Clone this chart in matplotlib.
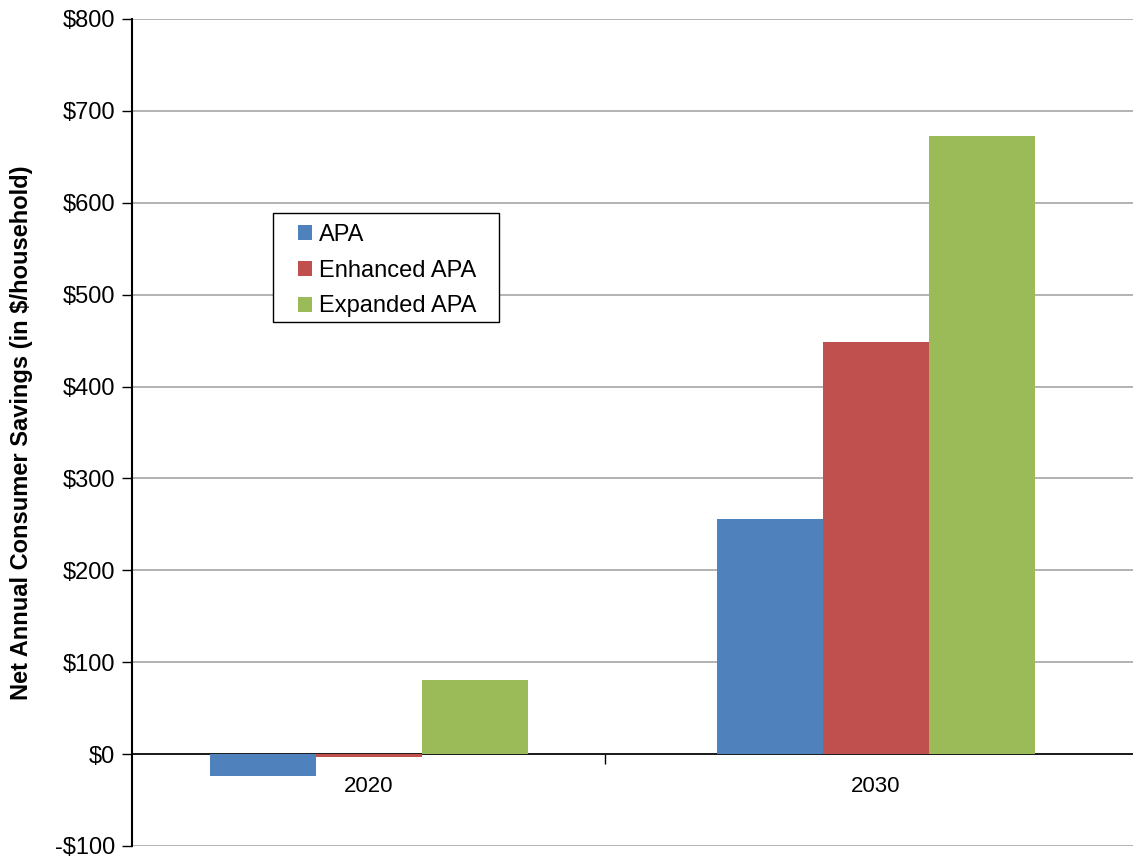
import numpy as np
import matplotlib
matplotlib.use("Agg")
import matplotlib.pyplot as plt
from matplotlib.ticker import FixedLocator
from matplotlib.patches import Rectangle

plt.rcParams["font.family"] = ["Liberation Sans", "DejaVu Sans"]

# values in $/household
YEARS    = ["2020", "2030"]
SERIES   = ["APA", "Enhanced APA", "Expanded APA"]
APA      = [-24, 256]
ENHANCED = [-3, 448]
EXPANDED = [81, 673]
Y_TICKS  = [-100, 0, 100, 200, 300, 400, 500, 600, 700, 800]

COLORS = ["#4F81BD", "#C0504D", "#9BBB59"]

W, H = 1133, 857
TOP, BOT, LEFT = 19, 846, 132
fig = plt.figure(figsize=(W / 100, H / 100), dpi=100)
ax = fig.add_axes([LEFT / W, 1 - BOT / H, 1 - LEFT / W, (BOT - TOP) / H])

x = np.arange(len(YEARS))
w = 0.209
for i, (vals, name) in enumerate(zip([APA, ENHANCED, EXPANDED], SERIES)):
    ax.bar(x + (i - 1) * w, vals, width=w, color=COLORS[i], label=name, zorder=3)

ax.set_ylim(-100, 800)
ax.set_xlim(-0.4665, 1.5075)
ax.set_yticks(Y_TICKS)
ax.set_yticklabels([f"-${-v}" if v < 0 else f"${v}" for v in Y_TICKS], fontsize=17)
ax.yaxis.grid(True, color="#A6A6A6", linewidth=1.2, zorder=0)
ax.set_axisbelow(True)
ax.tick_params(axis="y", length=7, width=1, pad=5, direction="out")

# category axis sits on zero
ax.set_xticks([])
ax.spines["bottom"].set_position(("data", 0))
ax.spines["bottom"].set_linewidth(1.2)
ax.xaxis.set_minor_locator(FixedLocator([0.466]))
ax.tick_params(axis="x", which="minor", length=7, width=1, direction="out")
for xi, year in zip(x, YEARS):
    ax.text(xi, -24, year, ha="center", va="top", fontsize=16)

ax.spines["top"].set_visible(False)
ax.spines["right"].set_visible(False)
ax.spines["left"].set_linewidth(1.5)

ax.set_ylabel("Net Annual Consumer Savings (in $/household)",
              fontsize=17, fontweight="bold", labelpad=16)

# legend with a wider box drawn separately
def px(xp, yp):
    return (xp - LEFT) / (W - LEFT), (BOT - yp) / (BOT - TOP)

leg = ax.legend(loc="upper left", bbox_to_anchor=px(298, 224),
                fontsize=17, frameon=False,
                handlelength=0.6, handleheight=0.6, handletextpad=0.3,
                borderpad=0, labelspacing=0.58, borderaxespad=0)
leg.set_zorder(6)
x0, y0 = px(273, 322)
x1, y1 = px(499, 213)
ax.add_patch(Rectangle((x0, y0), x1 - x0, y1 - y0, transform=ax.transAxes,
                       facecolor="white", edgecolor="black", linewidth=1.0, zorder=5))

fig.savefig("out.png", dpi=100)
